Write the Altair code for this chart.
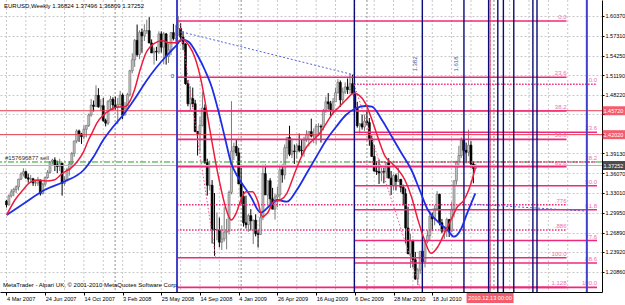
import altair as alt
import pandas as pd

FONT = "Liberation Sans"

# ---------------- weekly EURUSD candles (week 0 = 4 Mar 2007) ----------------
OPEN = [
 1.3175,1.3118,1.3256,1.3319,1.3354,1.3395,1.3515,1.3595,1.3630,1.3535,1.3515,1.3520,1.3455,1.3455,1.3500,1.3290,
 1.3435,1.3540,1.3620,1.3780,1.3810,1.3735,1.3710,1.3760,1.3450,1.3500,1.3660,1.3750,1.3910,1.4105,1.4260,1.4215,
 1.4170,1.4285,1.4345,1.4505,1.4660,1.4640,1.4810,1.4630,1.4650,1.4420,1.4380,1.4720,
 1.4750,1.4660,1.4630,1.4670,1.4815,1.4505,1.4610,1.4820,1.5190,1.5360,1.5660,1.5440,1.5785,1.5730,1.5810,1.5810,
 1.5620,1.5465,1.5490,1.5480,1.5760,1.5555,1.5760,1.5410,1.5510,1.5780,1.5690,1.5740,1.5845,1.5710,1.5605,1.4990,
 1.4680,1.4760,1.4680,1.4250,1.4220,1.4345,1.4615,1.3770,1.3420,1.3420,1.2740,1.2730,1.2730,1.2540,1.2590,1.2695,
 1.2710,1.3310,1.3950,1.4020,
 1.3920,1.3440,1.3250,1.2840,1.2810,1.2950,1.2870,1.2880,1.2670,1.2660,1.2920,1.3600,1.3270,1.3490,1.3210,1.3050,
 1.3240,1.3270,1.3660,1.3580,1.4000,1.4160,1.3900,1.3950,1.3940,1.4030,1.3960,1.3950,1.4120,1.4200,1.4250,1.4180,
 1.4180,1.4330,1.4330,1.4320,1.4575,1.4710,1.4680,1.4590,1.4710,1.4850,1.5010,1.4740,1.4860,1.4940,1.4900,1.4990,
 1.4840,1.4610,1.4340,1.4370,
 1.4320,1.4410,1.4390,1.4140,1.3865,1.3640,1.3630,1.3610,1.3630,1.3625,1.3770,1.3530,1.3420,1.3570,1.3480,1.3510,
 1.3390,1.3290,1.2760,1.2360,1.2560,1.2270,1.1970,1.2110,1.2400,1.2240,1.2550,1.2640,1.2940,1.2900,1.3060,1.3280,
 1.2840,1.2710,1.2760,1.2890,1.2710,1.3050,1.3490,1.3790,1.3880,1.4120,1.3960,1.3930,1.4040,1.3750,1.36824]
HIGH = [
 1.3195,1.3280,1.3360,1.3380,1.3420,1.3520,1.3620,1.3682,1.3648,1.3600,1.3580,1.3535,1.3510,1.3550,1.3510,1.3460,
 1.3555,1.3655,1.3790,1.3830,1.3852,1.3800,1.3830,1.3770,1.3560,1.3690,1.3790,1.3935,1.4110,1.4285,1.4280,1.4230,
 1.4345,1.4350,1.4530,1.4752,1.4730,1.4966,1.4920,1.4750,1.4770,1.4450,1.4735,1.4800,
 1.4780,1.4790,1.4770,1.4880,1.4840,1.4705,1.4850,1.5205,1.5460,1.5680,1.5905,1.5815,1.5840,1.5910,1.5980,1.6019,
 1.5675,1.5550,1.5560,1.5800,1.5800,1.5790,1.5775,1.5610,1.5790,1.5915,1.5900,1.6038,1.5925,1.5800,1.5615,1.5045,
 1.4950,1.4930,1.4740,1.4260,1.4480,1.4865,1.4670,1.3830,1.3800,1.3500,1.3300,1.3000,1.2920,1.2800,1.3080,1.2900,
 1.3340,1.4720,1.4080,1.4120,
 1.4000,1.3690,1.3330,1.3260,1.2980,1.3050,1.2890,1.2970,1.2730,1.2980,1.3740,1.3740,1.3480,1.3530,1.3380,1.3290,
 1.3400,1.3740,1.3740,1.4050,1.4160,1.4340,1.4140,1.4050,1.4070,1.4220,1.4130,1.4170,1.4270,1.4240,1.4450,1.4300,
 1.4370,1.4380,1.4360,1.4600,1.4790,1.4845,1.4725,1.4770,1.4930,1.5060,1.5040,1.4930,1.5010,1.5070,1.5144,1.5130,
 1.4880,1.4710,1.4380,1.4510,
 1.4510,1.4580,1.4460,1.4190,1.4040,1.3790,1.3820,1.3690,1.3690,1.3780,1.3840,1.3640,1.3590,1.3600,1.3690,1.3520,
 1.3430,1.3370,1.3090,1.2670,1.2580,1.2390,1.2140,1.2400,1.2450,1.2560,1.2720,1.3030,1.3000,1.3110,1.3330,1.3290,
 1.2900,1.2780,1.2920,1.2900,1.3160,1.3490,1.3790,1.4030,1.4160,1.4120,1.4080,1.4280,1.4100,1.3790,1.37496]
LOW = [
 1.3076,1.3105,1.3230,1.3250,1.3300,1.3340,1.3500,1.3555,1.3520,1.3460,1.3475,1.3410,1.3405,1.3410,1.3260,1.3280,
 1.3400,1.3520,1.3600,1.3740,1.3640,1.3610,1.3640,1.3260,1.3410,1.3480,1.3570,1.3710,1.3860,1.4070,1.4090,1.4060,
 1.4130,1.4160,1.4320,1.4480,1.4560,1.4640,1.4620,1.4570,1.4400,1.4330,1.4350,1.4580,
 1.4580,1.4590,1.4365,1.4630,1.4440,1.4500,1.4600,1.4790,1.5150,1.5250,1.5410,1.5370,1.5470,1.5650,1.5760,1.5615,
 1.5465,1.5285,1.5345,1.5450,1.5470,1.5290,1.5285,1.5310,1.5430,1.5660,1.5605,1.5780,1.5640,1.5510,1.4975,1.4640,
 1.4580,1.4630,1.4240,1.3880,1.3940,1.4330,1.3750,1.3260,1.3340,1.2520,1.2330,1.2570,1.2460,1.2420,1.2550,1.2430,
 1.2660,1.3280,1.3810,1.3870,
 1.3440,1.3130,1.2780,1.2750,1.2700,1.2720,1.2510,1.2630,1.2457,1.2650,1.2880,1.3380,1.3110,1.3110,1.3050,1.2890,
 1.3080,1.3180,1.3460,1.3510,1.3830,1.3870,1.3840,1.3750,1.3830,1.3930,1.3870,1.3860,1.4090,1.4020,1.4160,1.4070,
 1.4050,1.4180,1.4080,1.4270,1.4540,1.4590,1.4480,1.4520,1.4710,1.4840,1.4630,1.4680,1.4830,1.4830,1.4830,1.4830,
 1.4590,1.4310,1.4220,1.4280,
 1.4260,1.4350,1.4030,1.3860,1.3630,1.3580,1.3440,1.3480,1.3450,1.3530,1.3530,1.3270,1.3340,1.3340,1.3470,1.3310,
 1.3110,1.2520,1.2360,1.2140,1.2150,1.1960,1.1876,1.2050,1.2230,1.2150,1.2520,1.2560,1.2710,1.2800,1.3030,1.2800,
 1.2680,1.2590,1.2620,1.2620,1.2700,1.2920,1.3430,1.3690,1.3840,1.3700,1.3760,1.3870,1.3690,1.3450,1.36809]
CLOSE = [
 1.3118,1.3256,1.3319,1.3354,1.3395,1.3515,1.3595,1.3630,1.3535,1.3515,1.3520,1.3455,1.3455,1.3500,1.3290,1.3435,
 1.3540,1.3620,1.3780,1.3810,1.3735,1.3710,1.3760,1.3450,1.3500,1.3660,1.3750,1.3910,1.4105,1.4260,1.4215,1.4170,
 1.4285,1.4345,1.4505,1.4660,1.4640,1.4810,1.4630,1.4650,1.4420,1.4380,1.4720,1.4750,
 1.4660,1.4630,1.4670,1.4815,1.4505,1.4610,1.4820,1.5190,1.5360,1.5660,1.5440,1.5785,1.5730,1.5810,1.5810,1.5620,
 1.5465,1.5490,1.5480,1.5760,1.5555,1.5760,1.5410,1.5510,1.5780,1.5690,1.5740,1.5845,1.5710,1.5605,1.4990,1.4680,
 1.4760,1.4680,1.4250,1.4220,1.4345,1.4615,1.3770,1.3420,1.3420,1.2740,1.2730,1.2730,1.2540,1.2590,1.2695,1.2710,
 1.3310,1.3950,1.4020,1.3920,
 1.3440,1.3250,1.2840,1.2810,1.2950,1.2870,1.2880,1.2670,1.2660,1.2920,1.3600,1.3270,1.3490,1.3210,1.3050,1.3240,
 1.3270,1.3660,1.3580,1.4000,1.4160,1.3900,1.3950,1.3940,1.4030,1.3960,1.3950,1.4120,1.4200,1.4250,1.4180,1.4180,
 1.4330,1.4330,1.4320,1.4575,1.4710,1.4680,1.4590,1.4710,1.4850,1.5010,1.4740,1.4860,1.4940,1.4900,1.4990,1.4840,
 1.4610,1.4340,1.4370,1.4320,
 1.4410,1.4390,1.4140,1.3865,1.3640,1.3630,1.3610,1.3630,1.3625,1.3770,1.3530,1.3420,1.3570,1.3480,1.3510,1.3390,
 1.3290,1.2760,1.2360,1.2560,1.2270,1.1970,1.2110,1.2400,1.2240,1.2550,1.2640,1.2940,1.2900,1.3060,1.3280,1.2840,
 1.2710,1.2760,1.2890,1.2710,1.3050,1.3490,1.3790,1.3880,1.4120,1.3960,1.3930,1.4040,1.3750,1.3680,1.37252]

# moving averages (week index, price)
RED_W = [0.1,3.5,6.8,9.6,12.9,16.3,19.7,23.1,26.5,29.2,31.9,33.9,35.3,37.3,40.0,42.8,45.4,48.9,50.9,52.9,55.0,57.6,61.1,
         64.4,67.2,69.8,72.6,75.3,78.0,80.7,82.7,84.8,86.8,88.8,90.9,92.9,94.9,96.9,99.0,101.7,103.7,105.8,107.8,110.5,
         113.2,115.9,118.6,121.3,124.1,126.7,129.5,132.2,134.9,137.6,140.3,143.7,145.7,148.4,151.1,153.9,156.6,159.3,
         162.0,164.7,167.4,170.1,172.8,175.5,178.3,181.0,183.7,186.4,189.1,191.8,193.8]
RED_P = [1.2961,1.3192,1.3347,1.3460,1.3501,1.3486,1.3501,1.3605,1.3682,1.3784,1.3939,1.4120,1.4223,1.4378,1.4506,
         1.4583,1.4625,1.4634,1.4712,1.4893,1.5175,1.5460,1.5615,1.5655,1.5624,1.5624,1.5676,1.5588,1.5383,1.4996,
         1.4583,1.4120,1.3707,1.3347,1.3037,1.2883,1.2986,1.3192,1.3320,1.3320,1.3192,1.2934,1.2986,1.3166,1.3192,
         1.3296,1.3552,1.3810,1.4016,1.4120,1.4223,1.4378,1.4532,1.4634,1.4738,1.4842,1.4815,1.4687,1.4429,1.4120,
         1.3861,1.3759,1.3656,1.3501,1.3243,1.2883,1.2574,1.2368,1.2470,1.2677,1.2883,1.3088,1.3192,1.3424,1.3682]
BLUE_W = [0.1,7.5,15.7,23.8,31.9,36.0,40.0,44.1,48.2,53.6,57.6,61.7,65.8,69.8,72.6,75.3,79.3,82.0,84.8,87.5,90.2,92.9,
          95.6,96.9,101.0,105.1,109.1,111.9,115.9,120.0,124.1,128.1,132.2,136.3,140.3,144.4,148.5,151.1,155.2,159.3,
          163.3,167.4,170.8,174.2,178.3,182.3,185.0,187.7,190.4,193.8]
BLUE_P = [1.2961,1.3146,1.3347,1.3475,1.3656,1.3861,1.4120,1.4325,1.4506,1.4789,1.5021,1.5228,1.5407,1.5562,1.5676,
          1.5639,1.5407,1.5202,1.4944,1.4583,1.4171,1.3759,1.3552,1.3475,1.3243,1.2996,1.3115,1.3192,1.3166,1.3347,
          1.3605,1.3861,1.4120,1.4325,1.4506,1.4610,1.4645,1.4634,1.4429,1.4171,1.3914,1.3656,1.3347,1.3037,1.2857,
          1.2728,1.2625,1.2728,1.2986,1.3296]

# axes
X_TICKS = [0, 16, 32, 48, 64, 80, 96, 112, 128, 144, 160, 176]
X_LABELS = ["4 Mar 2007", "24 Jun 2007", "14 Oct 2007", "3 Feb 2008", "25 May 2008", "14 Sep 2008",
            "4 Jan 2009", "26 Apr 2009", "16 Aug 2009", "6 Dec 2009", "28 Mar 2010", "18 Jul 2010"]
GRID_X = [0, 8, 16, 24, 32, 40, 48, 56, 64, 72, 80, 88, 96, 104, 112, 120, 128, 136, 144, 152, 160, 168, 176,
          184, 192, 200, 208, 216, 224, 232, 240]
Y_TICKS = [1.6037, 1.5731, 1.5425, 1.5119, 1.4822, 1.4516, 1.4210, 1.3913, 1.3607, 1.3301, 1.2995, 1.2689,
           1.2392, 1.2086, 1.1769]
SEPARATORS = [44.9, 97.0, 149.0, 201.5]

# fibonacci retracement (centre set, from the 2008 high)
FIBC_LABELS = ["0.0", "23.6", "38.2", "50.0", "61.8", ".776", ".886", "100.0", "1.128"]
FIBC_PRICES = [1.5959, 1.5089, 1.4568, 1.4130, 1.3707, 1.3119, 1.2728, 1.2300, 1.1842]
FIBC_DOTTED = [".776", ".886"]
FIBC_FROM, FIBC_TO = 70.5, 231.5
# fibonacci retracement (right set, from the 2009 high)
FIBR_LABELS = ["0.0", "23.6", "38.2", "50.0", "61.8", "77.6", "88.6", "100.0"]
FIBR_PRICES = [1.4981, 1.4239, 1.3780, 1.3413, 1.3041, 1.2566, 1.2218, 1.1842]
FIBR_DOTTED = ["0.0", "38.2"]
FIBR_FROM, FIBR_TO = 143.7, 244.1

USER_LINES = [1.4572, 1.4202]
ORDER_PRICE = 1.3780
BID = 1.37252
BLUE_V = [70.5, 239.9]
NAVY_V = [143.8, 171.9, 189.1, 199.3, 203.1, 205.4, 209.7, 217.6, 219.3]
RED_V = 199.9
DIAG_C = [(71.5, 1.5959), (86.5, 1.2300)]
DIAG_R = [(143.7, 1.4981), (170.9, 1.1842)]
TREND_BLUE = [(72.6, 1.5790), (143.7, 1.5125)]
TREND_BLUE2 = [(191.7, 1.3130), (239.2, 1.3022)]

W, H = 602, 292
xs = alt.Scale(domain=[-0.61, 244.1], nice=False, zero=False)
ys = alt.Scale(domain=[1.1770, 1.6284], nice=False, zero=False)

label_arr = "[" + ",".join("'%s'" % s for s in X_LABELS) + "]"
x_axis = alt.Axis(values=X_TICKS, labelExpr=label_arr + "[round(datum.value/16)]", labelAlign="left",
                  labelFont=FONT, labelFontSize=5.6, labelColor="black", tickColor="black", tickSize=3,
                  domainColor="black", grid=False, title=None, labelPadding=1, labelOverlap=False,
                  labelFlush=False)
y_axis = alt.Axis(orient="right", values=Y_TICKS, format=".5f",
                  labelExpr="(datum.value > 1.415 && datum.value < 1.46) ? '' : datum.label",
                  labelFont=FONT, labelFontSize=5.5, labelColor="black", tickColor="black", tickSize=2,
                  domainColor="black", grid=True, gridColor="#c8c8c8", gridDash=[2, 2], title=None,
                  labelPadding=1, labelOverlap=False, labelFlush=False)


def X(f):
    return alt.X(f, type="quantitative", scale=xs, axis=x_axis)


def Y(f):
    return alt.Y(f, type="quantitative", scale=ys, axis=y_axis)


candles = pd.DataFrame({"i": list(range(len(CLOSE))), "o": OPEN, "h": HIGH, "l": LOW, "c": CLOSE})
up = "datum.c >= datum.o"

layers = []
# vertical grid + period separators
layers.append(alt.Chart(pd.DataFrame({"v": GRID_X})).mark_rule(color="#c8c8c8", strokeDash=[2, 2], strokeWidth=1)
              .encode(x=X("v")))
layers.append(alt.Chart(pd.DataFrame({"v": SEPARATORS})).mark_rule(color="#8c8c8c", strokeDash=[2, 2], strokeWidth=1)
              .encode(x=X("v")))

# candles
layers.append(alt.Chart(candles).mark_rule(strokeWidth=1).encode(
    x=X("i"), y=Y("l"), y2="h",
    color=alt.condition(up, alt.value("#7a7a7a"), alt.value("#000000"))))
layers.append(alt.Chart(candles).mark_bar(size=2, strokeWidth=0.6).encode(
    x=X("i"), y=Y("o"), y2="c",
    fill=alt.condition(up, alt.value("#c4c4c4"), alt.value("#000000")),
    stroke=alt.condition(up, alt.value("#6a6a6a"), alt.value("#000000"))))

# user red horizontal lines, order line, bid line
layers.append(alt.Chart(pd.DataFrame({"p": USER_LINES})).mark_rule(color="#e8384f", strokeWidth=1)
              .encode(y=Y("p")))
layers.append(alt.Chart(pd.DataFrame({"p": [ORDER_PRICE]})).mark_rule(color="#20a020", strokeWidth=1,
                                                                       strokeDash=[6, 2, 2, 2]).encode(y=Y("p")))
layers.append(alt.Chart(pd.DataFrame({"p": [BID]})).mark_rule(color="#b4b4b4", strokeWidth=1).encode(y=Y("p")))

# fibonacci lines
PINK = "#f0287a"
fc = pd.DataFrame({"t": FIBC_LABELS, "p": FIBC_PRICES, "x1": FIBC_FROM, "x2": FIBC_TO})
fr = pd.DataFrame({"t": FIBR_LABELS, "p": FIBR_PRICES, "x1": FIBR_FROM, "x2": FIBR_TO})
for df, dotted in ((fc, FIBC_DOTTED), (fr, FIBR_DOTTED)):
    solid_df = df[~df["t"].isin(dotted)]
    dot_df = df[df["t"].isin(dotted)]
    layers.append(alt.Chart(solid_df).mark_rule(color=PINK, strokeWidth=1.6)
                  .encode(x=X("x1"), x2="x2", y=Y("p")))
    layers.append(alt.Chart(dot_df).mark_rule(color=PINK, strokeWidth=1.6, strokeDash=[1.5, 1.5])
                  .encode(x=X("x1"), x2="x2", y=Y("p")))
    layers.append(alt.Chart(df).mark_text(align="right", baseline="bottom", dy=-1, font=FONT, fontSize=6,
                                          color="#f070a8")
                  .encode(x=X("x2"), y=Y("p"), text="t:N"))

# vertical lines
layers.append(alt.Chart(pd.DataFrame({"v": BLUE_V})).mark_rule(color="#4040c8", strokeWidth=2).encode(x=X("v")))
layers.append(alt.Chart(pd.DataFrame({"v": NAVY_V})).mark_rule(color="#0a0a78", strokeWidth=1.4).encode(x=X("v")))
layers.append(alt.Chart(pd.DataFrame({"v": [RED_V]})).mark_rule(color="#e03050", strokeWidth=1).encode(x=X("v")))

# diagonal dotted lines
diag = pd.DataFrame(
    [{"g": "c", "i": a, "p": b} for a, b in DIAG_C] + [{"g": "r", "i": a, "p": b} for a, b in DIAG_R])
layers.append(alt.Chart(diag).mark_line(color="#f05090", strokeWidth=1, strokeDash=[1.5, 2])
              .encode(x=X("i"), y=Y("p"), detail="g:N"))
tb = pd.DataFrame(
    [{"g": "a", "i": a, "p": b} for a, b in TREND_BLUE] + [{"g": "b", "i": a, "p": b} for a, b in TREND_BLUE2])
layers.append(alt.Chart(tb).mark_line(color="#5064e0", strokeWidth=1, strokeDash=[2, 2])
              .encode(x=X("i"), y=Y("p"), detail="g:N"))

# moving averages
layers.append(alt.Chart(pd.DataFrame({"i": BLUE_W, "p": BLUE_P})).mark_line(
    color="#1e2ee6", strokeWidth=1.8, interpolate="monotone").encode(x=X("i"), y=Y("p")))
layers.append(alt.Chart(pd.DataFrame({"i": RED_W, "p": RED_P})).mark_line(
    color="#ee1c3c", strokeWidth=1.5, interpolate="monotone").encode(x=X("i"), y=Y("p")))

# small texts
layers.append(alt.Chart(pd.DataFrame({"i": [170.1, 187.2], "t": ["1.382", "1.618"]})).mark_text(
    angle=270, font=FONT, fontSize=6, color="#5050a0", baseline="bottom").encode(
    x=X("i"), y=alt.value(64), text="t:N"))
layers.append(alt.Chart(pd.DataFrame({"i": [68.6], "p": [1.5109], "t": ["0"]})).mark_text(
    font=FONT, fontSize=6, color="#3030c0").encode(x=X("i"), y=Y("p"), text="t:N"))
layers.append(alt.Chart(pd.DataFrame({"t": ["EURUSD,Weekly  1.36824 1.37496 1.36809 1.37252"]})).mark_text(
    align="left", baseline="middle", font=FONT, fontSize=6, color="black").encode(
    x=alt.value(4), y=alt.value(6), text="t:N"))
layers.append(alt.Chart(pd.DataFrame({"p": [ORDER_PRICE], "t": ["#157696877 sell"]})).mark_text(
    align="left", baseline="bottom", dy=-1, font=FONT, fontSize=6, color="#303030").encode(
    x=alt.value(5), y=Y("p"), text="t:N"))
layers.append(alt.Chart(pd.DataFrame({"t": ["MetaTrader - Alpari UK, \u00a9 2001-2010 MetaQuotes Software Corp."]}))
              .mark_text(align="left", baseline="middle", font=FONT, fontSize=6, color="black").encode(
    x=alt.value(3), y=alt.value(285), text="t:N"))

# price boxes on the right axis
boxes = pd.DataFrame({"p": USER_LINES + [BID], "t": ["1.45720", "1.42020", "1.37252"],
                      "k": ["r", "r", "b"]})
layers.append(alt.Chart(boxes).mark_tick(orient="horizontal", size=23, thickness=9).encode(
    x=alt.value(614), y=Y("p"),
    color=alt.condition("datum.k == 'r'", alt.value("#f01830"), alt.value("#000000"))))
layers.append(alt.Chart(boxes).mark_text(align="left", baseline="middle", font=FONT, fontSize=5.5,
                                         color="white").encode(x=alt.value(603.5), y=Y("p"), text="t:N"))
# time box on the bottom axis
layers.append(alt.Chart(pd.DataFrame({"v": [RED_V], "t": ["2010.12.13 00:00"]})).mark_tick(
    orient="horizontal", size=47, thickness=10, color="#f01830").encode(x=X("v"), y=alt.value(298)))
layers.append(alt.Chart(pd.DataFrame({"v": [RED_V], "t": ["2010.12.13 00:00"]})).mark_text(
    font=FONT, fontSize=5.6, color="white", baseline="middle").encode(x=X("v"), y=alt.value(298), text="t:N"))

chart = alt.layer(*layers).properties(
    width=W, height=H, background="white",
    autosize=alt.AutoSizeParams(type="none"),
    padding={"left": 0, "top": 0, "right": 23, "bottom": 13},
).configure_view(stroke=None)

chart.save("out.html", embed_options={"renderer": "svg", "actions": False})
